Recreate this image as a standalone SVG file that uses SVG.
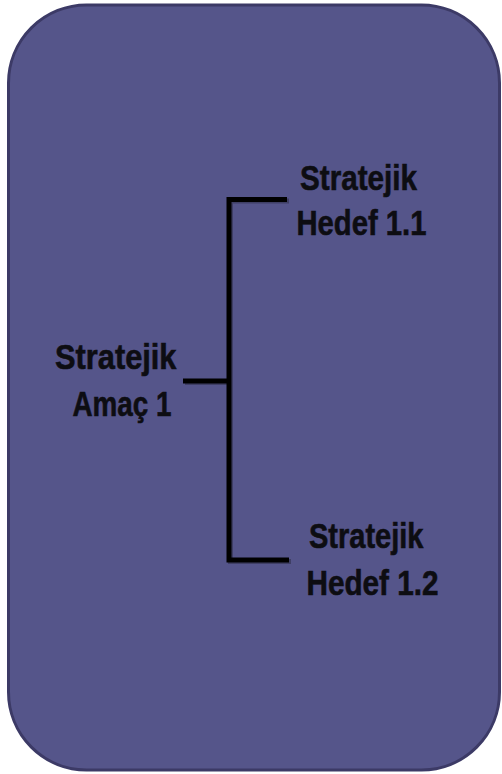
<svg xmlns="http://www.w3.org/2000/svg" width="502" height="774" viewBox="0 0 502 774">
  <defs>
    <style>
      .panel { fill: #55558a; stroke: #3c3a66; stroke-width: 3; }
      .label { font-family: "Liberation Sans", Arial, sans-serif; font-weight: bold; font-size: 35px; fill: #0d0d12; stroke: #0d0d12; stroke-width: 0.6; }
      .bracket { fill: none; stroke: #000000; stroke-width: 5; stroke-linecap: butt; stroke-linejoin: miter; }
      .shadow { fill: none; stroke: #2a2a40; stroke-width: 5; opacity: 0.5; }
    </style>
  </defs>

  <!-- background panel -->
  <g id="panel">
    <rect class="panel" x="8.5" y="5" width="491" height="765" rx="78" ry="78"/>
  </g>

  <!-- bracket connectors -->
  <g id="connectors">
    <path class="shadow" d="M185 382.5 H230.5 M289 201 H230.5 V561.5 H291"/>
    <path class="bracket" d="M183 381 H229 M287 199.5 H229 V560 H289"/>
  </g>

  <g id="amac-1">
    <text class="label" x="55" y="369" textLength="121.5" lengthAdjust="spacingAndGlyphs">Stratejik</text>
    <text class="label" x="72.5" y="416" textLength="99" lengthAdjust="spacingAndGlyphs">Amaç 1</text>
  </g>

  <g id="hedef-1-1">
    <text class="label" x="300" y="189.5" textLength="117" lengthAdjust="spacingAndGlyphs">Stratejik</text>
    <text class="label" x="296.5" y="235" textLength="130" lengthAdjust="spacingAndGlyphs">Hedef 1.1</text>
  </g>

  <g id="hedef-1-2">
    <text class="label" x="309" y="548" textLength="114.5" lengthAdjust="spacingAndGlyphs">Stratejik</text>
    <text class="label" x="306.5" y="595" textLength="132" lengthAdjust="spacingAndGlyphs">Hedef 1.2</text>
  </g>
</svg>
